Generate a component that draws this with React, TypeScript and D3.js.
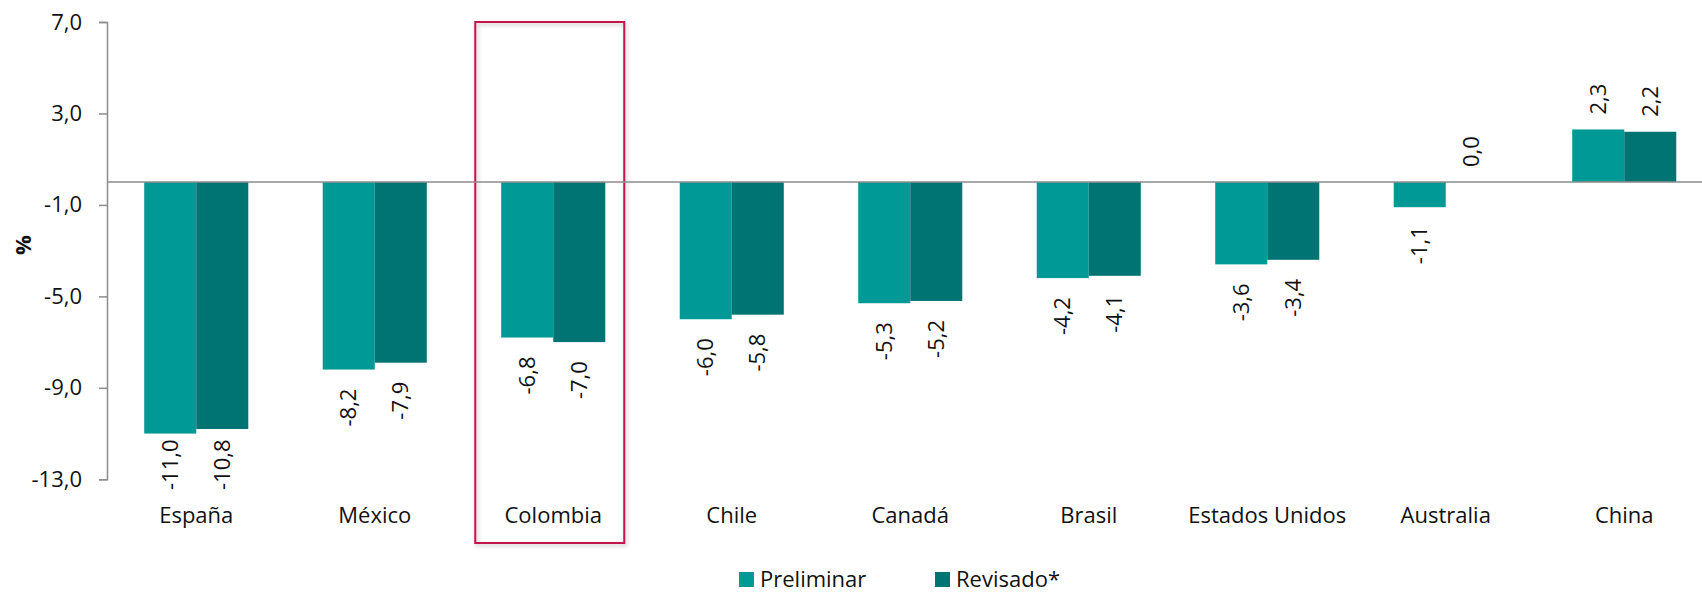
import React, { useRef, useEffect } from 'react'
import * as d3 from 'd3'

const categories = ['España', 'México', 'Colombia', 'Chile', 'Canadá', 'Brasil', 'Estados Unidos', 'Australia', 'China']
const preliminar = [-11.0, -8.2, -6.8, -6.0, -5.3, -4.2, -3.6, -1.1, 2.3]
const revisado = [-10.8, -7.9, -7.0, -5.8, -5.2, -4.1, -3.4, 0.0, 2.2]
const seriesNames = ['Preliminar', 'Revisado*']
const yTicks = [7, 3, -1, -5, -9, -13]
const highlighted = 'Colombia'

const colors = ['#009996', '#007373']
const FONT = '"Open Sans", "Noto Sans", sans-serif'

const fmt = (v: number) => d3.format('.1f')(v).replace('.', ',').replace('−', '-')

const App = () => {
  const svgRef = useRef<SVGSVGElement>(null)

  useEffect(() => {
    document.body.style.margin = '0'
    const svg = d3.select(svgRef.current)
    svg.selectAll('*').remove()

    const W = 1702, H = 592
    const left = 107, top = 22, bottom = 479.3
    const y = d3.scaleLinear().domain([-13, 7]).range([bottom, top])
    const x = d3.scaleBand<string>()
      .domain(categories)
      .range([left, 1713.5])
      .paddingInner(0.417)
      .paddingOuter(0.2085)
    const xs = d3.scaleBand<number>().domain([0, 1]).range([0, x.bandwidth()])

    const g = svg.append('g').style('font-family', FONT)

    // highlight box with soft shadow
    const defs = svg.append('defs')
    const f = defs.append('filter').attr('id', 'sh').attr('x', '-10%').attr('y', '-10%').attr('width', '120%').attr('height', '120%')
    f.append('feDropShadow').attr('dx', 1.5).attr('dy', 2).attr('stdDeviation', 2).attr('flood-color', '#000').attr('flood-opacity', 0.25)

    const bx = x(highlighted)! + x.bandwidth() / 2
    g.append('rect')
      .attr('x', bx - 78).attr('y', 22)
      .attr('width', 149).attr('height', 521)
      .attr('fill', 'none')
      .attr('stroke', '#C4124D')
      .attr('stroke-width', 2)
      .attr('filter', 'url(#sh)')

    // y axis
    const yAxis = d3.axisLeft(y).tickValues(yTicks).tickSize(8).tickPadding(17).tickFormat(d => fmt(d as number))
    const ya = g.append('g').attr('transform', `translate(${left},0)`).call(yAxis)
    ya.select('.domain').attr('stroke', '#8c8c8c').attr('stroke-width', 1.5)
    ya.selectAll('.tick line').attr('stroke', '#8c8c8c').attr('stroke-width', 1.5)
    ya.selectAll('.tick text').attr('font-size', 22).attr('fill', '#111').style('font-family', FONT)

    g.append('text')
      .attr('transform', `translate(23,245) rotate(-90)`)
      .attr('text-anchor', 'middle')
      .attr('dy', '0.35em')
      .attr('font-size', 22)
      .attr('font-weight', 'bold')
      .attr('fill', '#111')
      .text('%')

    // bars
    const seriesData = [preliminar, revisado]
    seriesData.forEach((vals, si) => {
      g.append('g').selectAll('rect')
        .data(vals)
        .join('rect')
        .attr('x', (_, i) => x(categories[i])! + xs(si)!)
        .attr('width', xs.bandwidth())
        .attr('y', d => y(Math.max(0, d)))
        .attr('height', d => Math.abs(y(d) - y(0)))
        .attr('fill', colors[si])
    })

    // zero line
    g.append('line')
      .attr('x1', left).attr('x2', W)
      .attr('y1', y(0)).attr('y2', y(0))
      .attr('stroke', '#8c8c8c').attr('stroke-width', 1.5)

    // value labels
    seriesData.forEach((vals, si) => {
      vals.forEach((v, i) => {
        const cx = x(categories[i])! + xs(si)! + xs.bandwidth() / 2
        const t = g.append('text')
          .attr('font-size', 22)
          .attr('fill', '#111')
          .attr('dy', '0.35em')
          .text(fmt(v))
        if (v < 0) {
          const len = (t.node() as SVGTextElement).getComputedTextLength()
          let yy = y(v) + 19
          if (yy + len > 490) yy = 490 - len
          t.attr('text-anchor', 'end').attr('transform', `translate(${cx},${yy}) rotate(-90)`)
        } else {
          const yy = y(v) - 15
          t.attr('text-anchor', 'start').attr('transform', `translate(${cx},${yy}) rotate(-90)`)
        }
      })
    })

    // category labels
    g.append('g').selectAll('text')
      .data(categories)
      .join('text')
      .attr('x', d => x(d)! + x.bandwidth() / 2)
      .attr('y', 523)
      .attr('text-anchor', 'middle')
      .attr('font-size', 22)
      .attr('fill', '#111')
      .text(d => d)

    // legend
    const lx = [739, 935]
    seriesNames.forEach((name, si) => {
      g.append('rect').attr('x', lx[si]).attr('y', 572).attr('width', 15).attr('height', 15).attr('fill', colors[si])
      g.append('text').attr('x', lx[si] + 21).attr('y', 587).attr('font-size', 22).attr('fill', '#111').text(name)
    })

    svg.attr('width', W).attr('height', H)
  }, [])

  return (
    <svg ref={svgRef} width={1702} height={592} style={{ display: 'block', background: '#fff' }} />
  )
}

export default App
